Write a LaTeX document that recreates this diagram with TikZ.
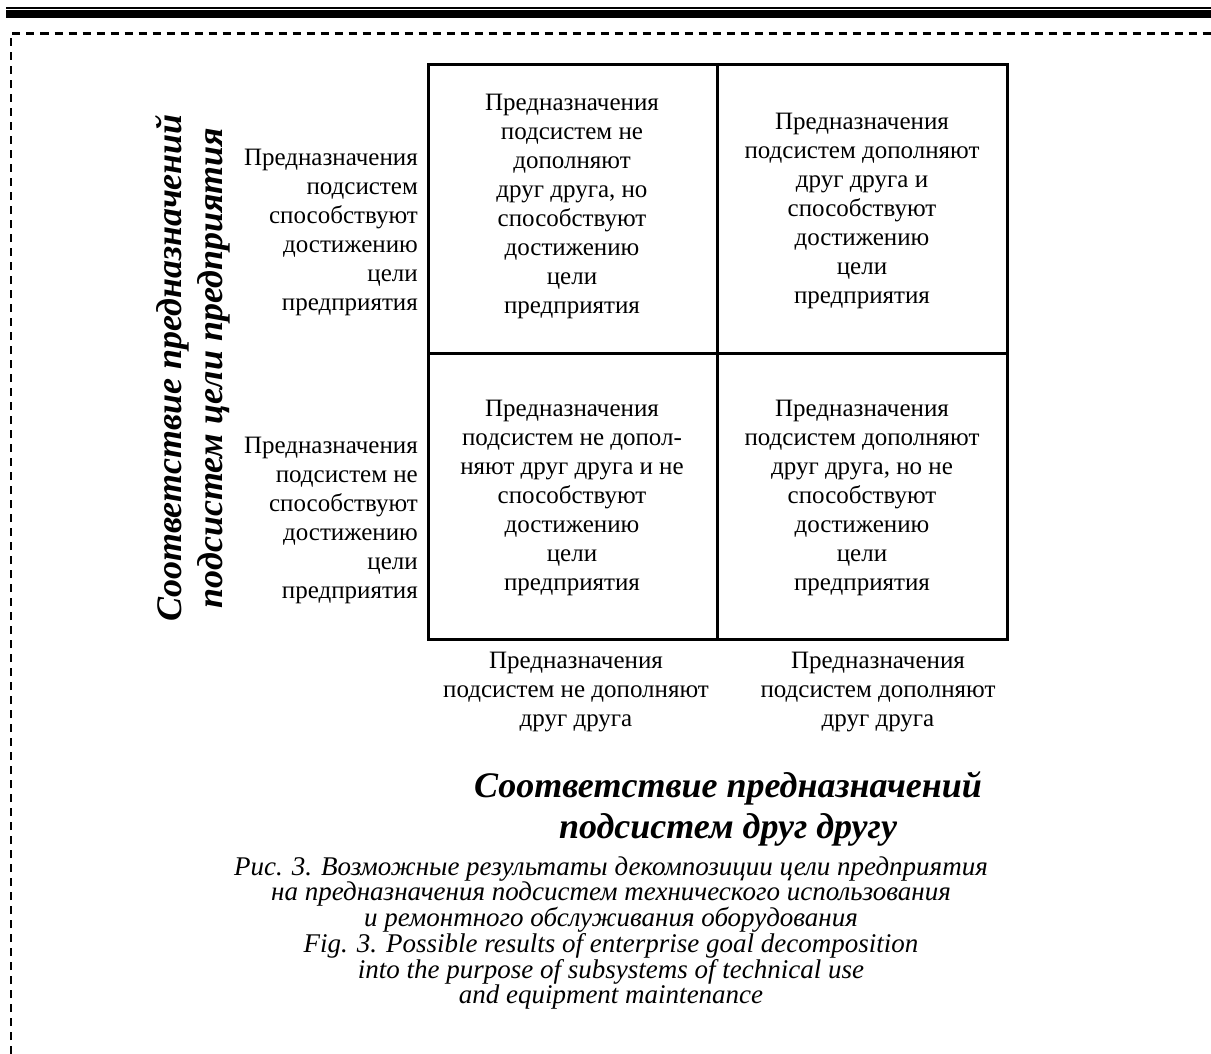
\documentclass[tikz,border=0pt]{standalone}
\usepackage{fontspec}
\setmainfont{Liberation Serif}
\tikzset{
  body/.style={inner sep=0pt, font={\fontsize{25}{29}\selectfont}},
  axtitle/.style={inner sep=0pt, align=center, font={\fontsize{36}{41}\selectfont\bfseries\itshape}},
  capt/.style={inner sep=0pt, align=center, font={\itshape\fontsize{27}{24.2}\selectfont}},
  grid/.style={line width=3pt},
  frame/.style={line width=2.3pt, dash pattern=on 8pt off 6pt}
}
\begin{document}
\begin{tikzpicture}[x=1pt,y=-1pt]
\useasboundingbox (0,0) rectangle (1211,1054);
% top rules
\fill (6,6.8) rectangle (1211,8.8);
\fill (6,10) rectangle (1211,18.3);
% dashed frame
\coordinate (fa) at (11,1054);
\coordinate (fb) at (11,33.5);
\coordinate (fc) at (1211,33.5);
\draw[frame] (fa) -- (fb) -- (fc);
% grid
\coordinate (g1) at (428,65);
\coordinate (g2) at (1007,639);
\coordinate (vt) at (717,65);
\coordinate (vb) at (717,639);
\coordinate (hl) at (428,353);
\coordinate (hr) at (1007,353);
\draw[grid] (g1) rectangle (g2);
\draw[grid] (vt) -- (vb);
\draw[grid] (hl) -- (hr);
% cells
\node[body, align=center] (c11) at (572,206) {Предназначения\\подсистем не\\дополняют\\друг друга, но\\способствуют\\достижению\\цели\\предприятия};
\node[body, align=center] (c12) at (862,211) {Предназначения\\подсистем дополняют\\друг друга и\\способствуют\\достижению\\цели\\предприятия};
\node[body, align=center] (c21) at (572,498) {Предназначения\\подсистем не допол-\\няют друг друга и не\\способствуют\\достижению\\цели\\предприятия};
\node[body, align=center] (c22) at (862,498) {Предназначения\\подсистем дополняют\\друг друга, но не\\способствуют\\достижению\\цели\\предприятия};
% row labels
\node[body, align=right, anchor=east] (r1) at (418,232) {Предназначения\\подсистем\\способствуют\\достижению\\цели\\предприятия};
\node[body, align=right, anchor=east] (r2) at (418,520) {Предназначения\\подсистем не\\способствуют\\достижению\\цели\\предприятия};
% column labels
\node[body, align=center] (k1) at (576,692) {Предназначения\\подсистем не дополняют\\друг друга};
\node[body, align=center] (k2) at (878,692) {Предназначения\\подсистем дополняют\\друг друга};
% axis titles
\node[axtitle, rotate=90] (ty) at (193,368) {Соответствие предназначений\\подсистем цели предприятия};
\node[axtitle] (tx) at (728,809) {Соответствие предназначений\\подсистем друг другу};
% caption
\node[capt] (cap) at (611,933) {Рис. 3. Возможные результаты декомпозиции цели предприятия\\на предназначения подсистем технического использования\\и ремонтного обслуживания оборудования\\Fig. 3. Possible results of enterprise goal decomposition\\into the purpose of subsystems of technical use\\and equipment maintenance};
\end{tikzpicture}
\end{document}
